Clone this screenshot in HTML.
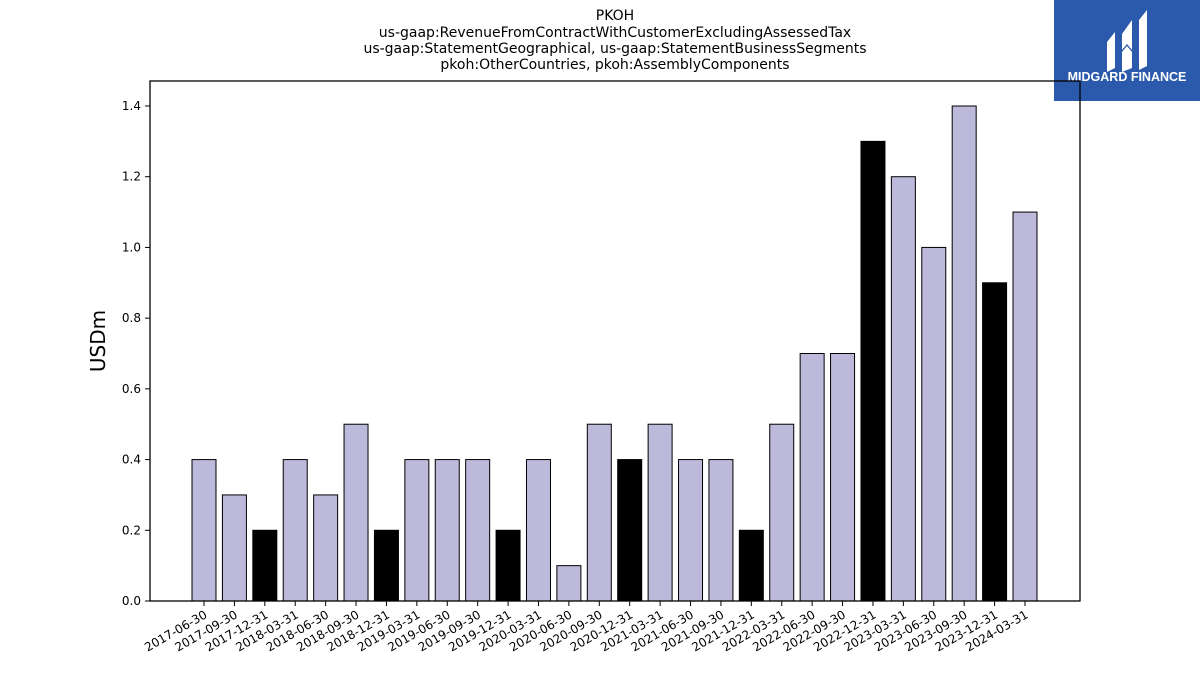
<!DOCTYPE html>
<html><head><meta charset="utf-8"><style>
body{margin:0;background:#fff;width:1200px;height:675px;overflow:hidden;font-family:"DejaVu Sans","Liberation Sans",sans-serif;}
</style></head><body>
<svg width="1200" height="675" xmlns="http://www.w3.org/2000/svg" id="chart">
<g font-size="14" text-anchor="middle" fill="#000">
<text x="615" y="20">PKOH</text>
<text x="615" y="37">us-gaap:RevenueFromContractWithCustomerExcludingAssessedTax</text>
<text x="615" y="53">us-gaap:StatementGeographical, us-gaap:StatementBusinessSegments</text>
<text x="615" y="69">pkoh:OtherCountries, pkoh:AssemblyComponents</text>
</g>
<g>
<rect x="1054" y="0" width="146" height="101" fill="#2b5aad"/>
<path d="M1107 42 L1115 32 L1115 68 L1107 72 Z" fill="#fff"/>
<path d="M1122 34 L1132 20 L1132 50 L1127 44 L1122 50 Z" fill="#fff"/>
<path d="M1122 52 L1127 46 L1132 52 L1132 68 L1122 72 Z" fill="#fff"/>
<path d="M1139 20 L1147 10 L1147 66 L1139 70 Z" fill="#fff"/>
<text x="1127" y="81" font-size="12.5" font-weight="bold" fill="#fff" text-anchor="middle" font-family="Liberation Sans, sans-serif">MIDGARD FINANCE</text>
</g>
<g id="plot"></g>
<text x="0" y="0" transform="translate(105,341) rotate(-90)" font-size="20" text-anchor="middle">USDm</text>
</svg>
<script>
const categories=["2017-06-30","2017-09-30","2017-12-31","2018-03-31","2018-06-30","2018-09-30","2018-12-31","2019-03-31","2019-06-30","2019-09-30","2019-12-31","2020-03-31","2020-06-30","2020-09-30","2020-12-31","2021-03-31","2021-06-30","2021-09-30","2021-12-31","2022-03-31","2022-06-30","2022-09-30","2022-12-31","2023-03-31","2023-06-30","2023-09-30","2023-12-31","2024-03-31"];
const values=[0.4,0.3,0.2,0.4,0.3,0.5,0.2,0.4,0.4,0.4,0.2,0.4,0.1,0.5,0.4,0.5,0.4,0.4,0.2,0.5,0.7,0.7,1.3,1.2,1.0,1.4,0.9,1.1];
const yTicks=[0,0.2,0.4,0.6,0.8,1.0,1.2,1.4];
const NS="http://www.w3.org/2000/svg";
const g=document.getElementById('plot');
const x0=150,x1=1080,yTop=81,yBase=601;
const yScale=v=>yBase-v*(601-106)/1.4;
const xScale=i=>204+i*(1025-204)/(categories.length-1);
const bw=24;
function mk(t,a){const e=document.createElementNS(NS,t);for(const k in a)e.setAttribute(k,a[k]);g.appendChild(e);return e;}
values.forEach((v,i)=>{
 const q4=categories[i].endsWith("12-31");
 const r=mk('rect',{x:xScale(i)-bw/2,y:yScale(v),width:bw,height:yBase-yScale(v),fill:q4?'#000':'#bcb9da',stroke:'#000','stroke-width':1});
 
 
 const t=mk('line',{x1:xScale(i),x2:xScale(i),y1:yBase,y2:yBase+5,stroke:'#000'});
 
 
 const l=mk('text',{x:xScale(i)+4,y:yBase+16,'font-size':12,'text-anchor':'end',transform:`rotate(-30 ${xScale(i)+4} ${yBase+16})`});
 l.textContent=categories[i];
 
 
});
yTicks.forEach(v=>{
 const t=mk('line',{x1:x0-5,x2:x0,y1:yScale(v),y2:yScale(v),stroke:'#000'});
 
 
 const l=mk('text',{x:x0-9,y:yScale(v)+4,'font-size':12,'text-anchor':'end'});
 l.textContent=v.toFixed(1);
 
 
});
const f=mk('rect',{x:x0,y:yTop,width:x1-x0,height:yBase-yTop,fill:'none',stroke:'#000','stroke-width':1.3});


</script>
</body></html>
